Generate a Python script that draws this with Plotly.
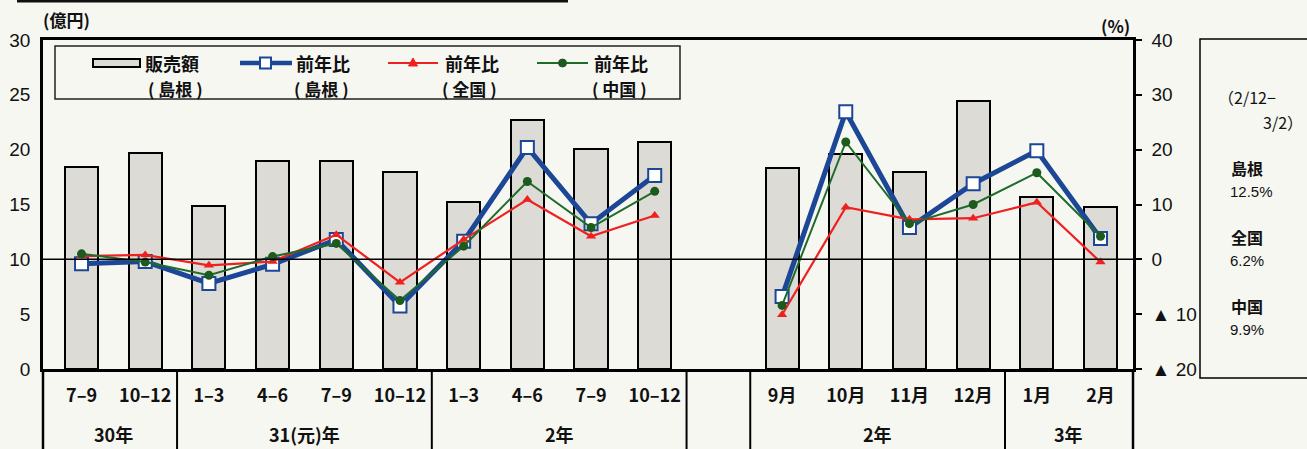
import plotly.graph_objects as go

# ---------------- data ----------------
categories = ["7–9", "10–12", "1–3", "4–6", "7–9", "10–12", "1–3", "4–6", "7–9", "10–12",
              "", "9月", "10月", "11月", "12月", "1月", "2月"]
sales_shimane = [18.4, 19.7, 14.9, 19.0, 19.0, 18.0, 15.2, 22.7, 20.1, 20.7,
                 None, 18.3, 19.6, 18.0, 24.4, 15.7, 14.8]
yoy_shimane = [-0.8, -0.4, -4.4, -0.9, 3.6, -8.5, 3.3, 20.4, 6.5, 15.3,
               None, -6.8, 26.9, 5.8, 13.8, 19.8, 3.8]
yoy_national = [0.6, 0.8, -1.1, -0.4, 4.5, -4.2, 3.6, 10.9, 4.2, 8.0,
                None, -10.1, 9.5, 7.3, 7.5, 10.4, -0.5]
yoy_chugoku = [1.0, -0.5, -2.9, 0.5, 2.9, -7.5, 2.4, 14.2, 5.8, 12.4,
               None, -8.4, 21.4, 6.5, 10.0, 15.8, 4.2]
groups = ["30年", "31(元)年", "2年", "2年", "3年"]
group_spans = [(0, 1), (2, 5), (6, 9), (11, 14), (15, 16)]
left_ticks = [0, 5, 10, 15, 20, 25, 30]
right_ticks = [40, 30, 20, 10, 0, -10, -20]
right_ticktext = ["40", "30", "20", "10", "0", "▲ 10", "▲ 20"]
side_stats = [("島根", "12.5%"), ("全国", "6.2%"), ("中国", "9.9%")]

# ---------------- layout geometry ----------------
W, H = 1307, 449
L, R, T, B = 43, 1133, 40, 369
PW, PH = R - L, B - T


def px(x):
    return (x - L) / PW


def py(y):
    return (B - y) / PH


BLUE = "#1b4796"
RED = "#ee2020"
GREEN = "#1f6b2a"
BARC = "#dddbd5"
BG = "#f7f7f2"
JP = "Noto Sans CJK JP"
NUM = "Liberation Sans"
TXT = "#111"

xs = list(range(len(categories)))

fig = go.Figure()
fig.add_trace(go.Bar(x=xs, y=sales_shimane, width=0.52,
                     marker=dict(color=BARC, line=dict(color="black", width=2)),
                     yaxis="y", showlegend=False, hoverinfo="skip"))
fig.add_trace(go.Scatter(x=xs, y=yoy_shimane, yaxis="y2", mode="lines+markers",
                         line=dict(color=BLUE, width=5),
                         marker=dict(symbol="square", size=13, color="white",
                                     line=dict(color=BLUE, width=2)),
                         connectgaps=False, showlegend=False))
fig.add_trace(go.Scatter(x=xs, y=yoy_national, yaxis="y2", mode="lines+markers",
                         line=dict(color=RED, width=2.2),
                         marker=dict(symbol="triangle-up", size=9, color=RED),
                         connectgaps=False, showlegend=False))
fig.add_trace(go.Scatter(x=xs, y=yoy_chugoku, yaxis="y2", mode="lines+markers",
                         line=dict(color=GREEN, width=2),
                         marker=dict(symbol="circle", size=9, color="#1d5a1d"),
                         connectgaps=False, showlegend=False))

shapes = []
annotations = []

# zero line of right axis
shapes.append(dict(type="line", xref="paper", yref="y2", x0=0, x1=1, y0=0, y1=0,
                   line=dict(color="black", width=1.5), layer="above"))

x0r, x1r = -0.605, 16.51
slot = PW / (x1r - x0r)


def cx(v):
    return L + (v - x0r) * slot


# separators in category area
for b in [1.5, 5.5, 9.5, 10.5, 14.5]:
    xb = px(cx(b))
    shapes.append(dict(type="line", xref="paper", yref="paper", x0=xb, x1=xb,
                       y0=0, y1=py(452), line=dict(color="black", width=2)))
for xb in [0, 1]:
    shapes.append(dict(type="line", xref="paper", yref="paper", x0=xb, x1=xb,
                       y0=0, y1=py(452), line=dict(color="black", width=2.5)))

# group labels
for g, (a, b) in zip(groups, group_spans):
    annotations.append(dict(x=px(cx((a + b) / 2)), y=py(434), xref="paper", yref="paper",
                            text=g, showarrow=False, xanchor="center", yanchor="middle",
                            font=dict(family=JP, size=18, color=TXT, weight=700)))

# axis unit labels
annotations.append(dict(x=px(41), y=py(19), xref="paper", yref="paper", text="(億円)",
                        showarrow=False, xanchor="left", yanchor="middle",
                        font=dict(family=JP, size=17, color=TXT, weight=700)))
annotations.append(dict(x=px(1132), y=py(25), xref="paper", yref="paper", text="(%)",
                        showarrow=False, xanchor="right", yanchor="middle",
                        font=dict(family=JP, size=17, color=TXT, weight=700)))

# legend box (drawn manually)
shapes.append(dict(type="rect", xref="paper", yref="paper", x0=px(55), x1=px(680),
                   y0=py(99), y1=py(46), line=dict(color="#222", width=1.5),
                   fillcolor=BG, layer="above"))
LY = 63
# bar symbol
shapes.append(dict(type="rect", xref="paper", yref="paper", x0=px(93), x1=px(140),
                   y0=py(LY + 4), y1=py(LY - 4), line=dict(color="black", width=2),
                   fillcolor=BARC, layer="above"))
# blue
shapes.append(dict(type="line", xref="paper", yref="paper", x0=px(240), x1=px(292),
                   y0=py(LY), y1=py(LY), line=dict(color=BLUE, width=4.5), layer="above"))
shapes.append(dict(type="rect", xref="paper", yref="paper", x0=px(260), x1=px(271),
                   y0=py(LY + 5.5), y1=py(LY - 5.5), line=dict(color=BLUE, width=2),
                   fillcolor="white", layer="above"))
# red
shapes.append(dict(type="line", xref="paper", yref="paper", x0=px(388), x1=px(438),
                   y0=py(LY), y1=py(LY), line=dict(color=RED, width=2.2), layer="above"))
tx, ty = 413, LY
path = "M {:.5f},{:.5f} L {:.5f},{:.5f} L {:.5f},{:.5f} Z".format(
    px(tx - 4.5), py(ty + 3), px(tx + 4.5), py(ty + 3), px(tx), py(ty - 5))
shapes.append(dict(type="path", xref="paper", yref="paper", path=path,
                   fillcolor=RED, line=dict(color=RED, width=1), layer="above"))
# green
shapes.append(dict(type="line", xref="paper", yref="paper", x0=px(537), x1=px(588),
                   y0=py(LY), y1=py(LY), line=dict(color=GREEN, width=2), layer="above"))
shapes.append(dict(type="circle", xref="paper", yref="paper", x0=px(558.5), x1=px(566.5),
                   y0=py(LY + 4), y1=py(LY - 4), fillcolor="#1d5a1d",
                   line=dict(color="#1d5a1d", width=1), layer="above"))

leg_items = [(143, 205, "販売額", "( 島根 )"), (294, 351, "前年比", "( 島根 )"),
             (443, 499, "前年比", "( 全国 )"), (592, 649, "前年比", "( 中国 )")]
for xl, xr, t1, t2 in leg_items:
    annotations.append(dict(x=px(xl), y=py(LY), xref="paper", yref="paper", text=t1,
                            showarrow=False, xanchor="left", yanchor="middle",
                            font=dict(family=JP, size=18, color=TXT, weight=700)))
    annotations.append(dict(x=px(xr), y=py(88), xref="paper", yref="paper", text=t2,
                            showarrow=False, xanchor="right", yanchor="middle",
                            font=dict(family=JP, size=17, color=TXT, weight=700)))

# right side box
shapes.append(dict(type="rect", xref="paper", yref="paper", x0=px(1200), x1=px(1330),
                   y0=py(378), y1=py(39), line=dict(color="black", width=1.5)))
annotations.append(dict(x=px(1216), y=py(97), xref="paper", yref="paper", text="（2/12−",
                        showarrow=False, xanchor="left", yanchor="middle",
                        font=dict(family=JP, size=16, color=TXT)))
annotations.append(dict(x=px(1305), y=py(122), xref="paper", yref="paper", text="3/2）",
                        showarrow=False, xanchor="right", yanchor="middle",
                        font=dict(family=JP, size=16, color=TXT)))
for i, (nm, val) in enumerate(side_stats):
    yy = 168 + i * 69
    annotations.append(dict(x=px(1229), y=py(yy), xref="paper", yref="paper", text=nm,
                            showarrow=False, xanchor="left", yanchor="middle",
                            font=dict(family=JP, size=16, color=TXT, weight=700)))
    annotations.append(dict(x=px(1228), y=py(yy + 23), xref="paper", yref="paper", text=val,
                            showarrow=False, xanchor="left", yanchor="middle",
                            font=dict(family=NUM, size=15, color=TXT)))

# scan artifact line at top
shapes.append(dict(type="line", xref="paper", yref="paper", x0=px(17), x1=px(568),
                   y0=py(1), y1=py(1), line=dict(color="#111", width=3)))

tickvals = [i for i, c in enumerate(categories) if c]
ticktext = [c for c in categories if c]

fig.update_layout(
    width=W, height=H,
    margin=dict(l=L, r=W - R, t=T, b=H - B, autoexpand=False),
    paper_bgcolor=BG, plot_bgcolor=BG,
    bargap=0,
    showlegend=False,
    xaxis=dict(range=[x0r, x1r], tickvals=tickvals, ticktext=ticktext,
               showgrid=False, zeroline=False, showline=True, mirror=True,
               linecolor="black", linewidth=2.5, ticks="", ticklabelstandoff=9,
               tickfont=dict(family=JP, size=18, color=TXT, weight=700)),
    yaxis=dict(range=[0, 30], tickvals=left_ticks, showgrid=False, zeroline=False,
               showline=True, linecolor="black", linewidth=2.5, ticks="",
               ticklabelstandoff=6, tickfont=dict(family=NUM, size=19, color=TXT)),
    yaxis2=dict(range=[-20, 40], overlaying="y", side="right", tickvals=right_ticks,
                ticktext=right_ticktext, showgrid=False, zeroline=False,
                showline=True, linecolor="black", linewidth=2.5, ticks="outside",
                ticklen=6, tickwidth=1.5, tickcolor="black", ticklabelstandoff=6,
                tickfont=dict(family=NUM, size=19, color=TXT)),
    shapes=shapes,
    annotations=annotations,
)

fig.write_html("out.html")
